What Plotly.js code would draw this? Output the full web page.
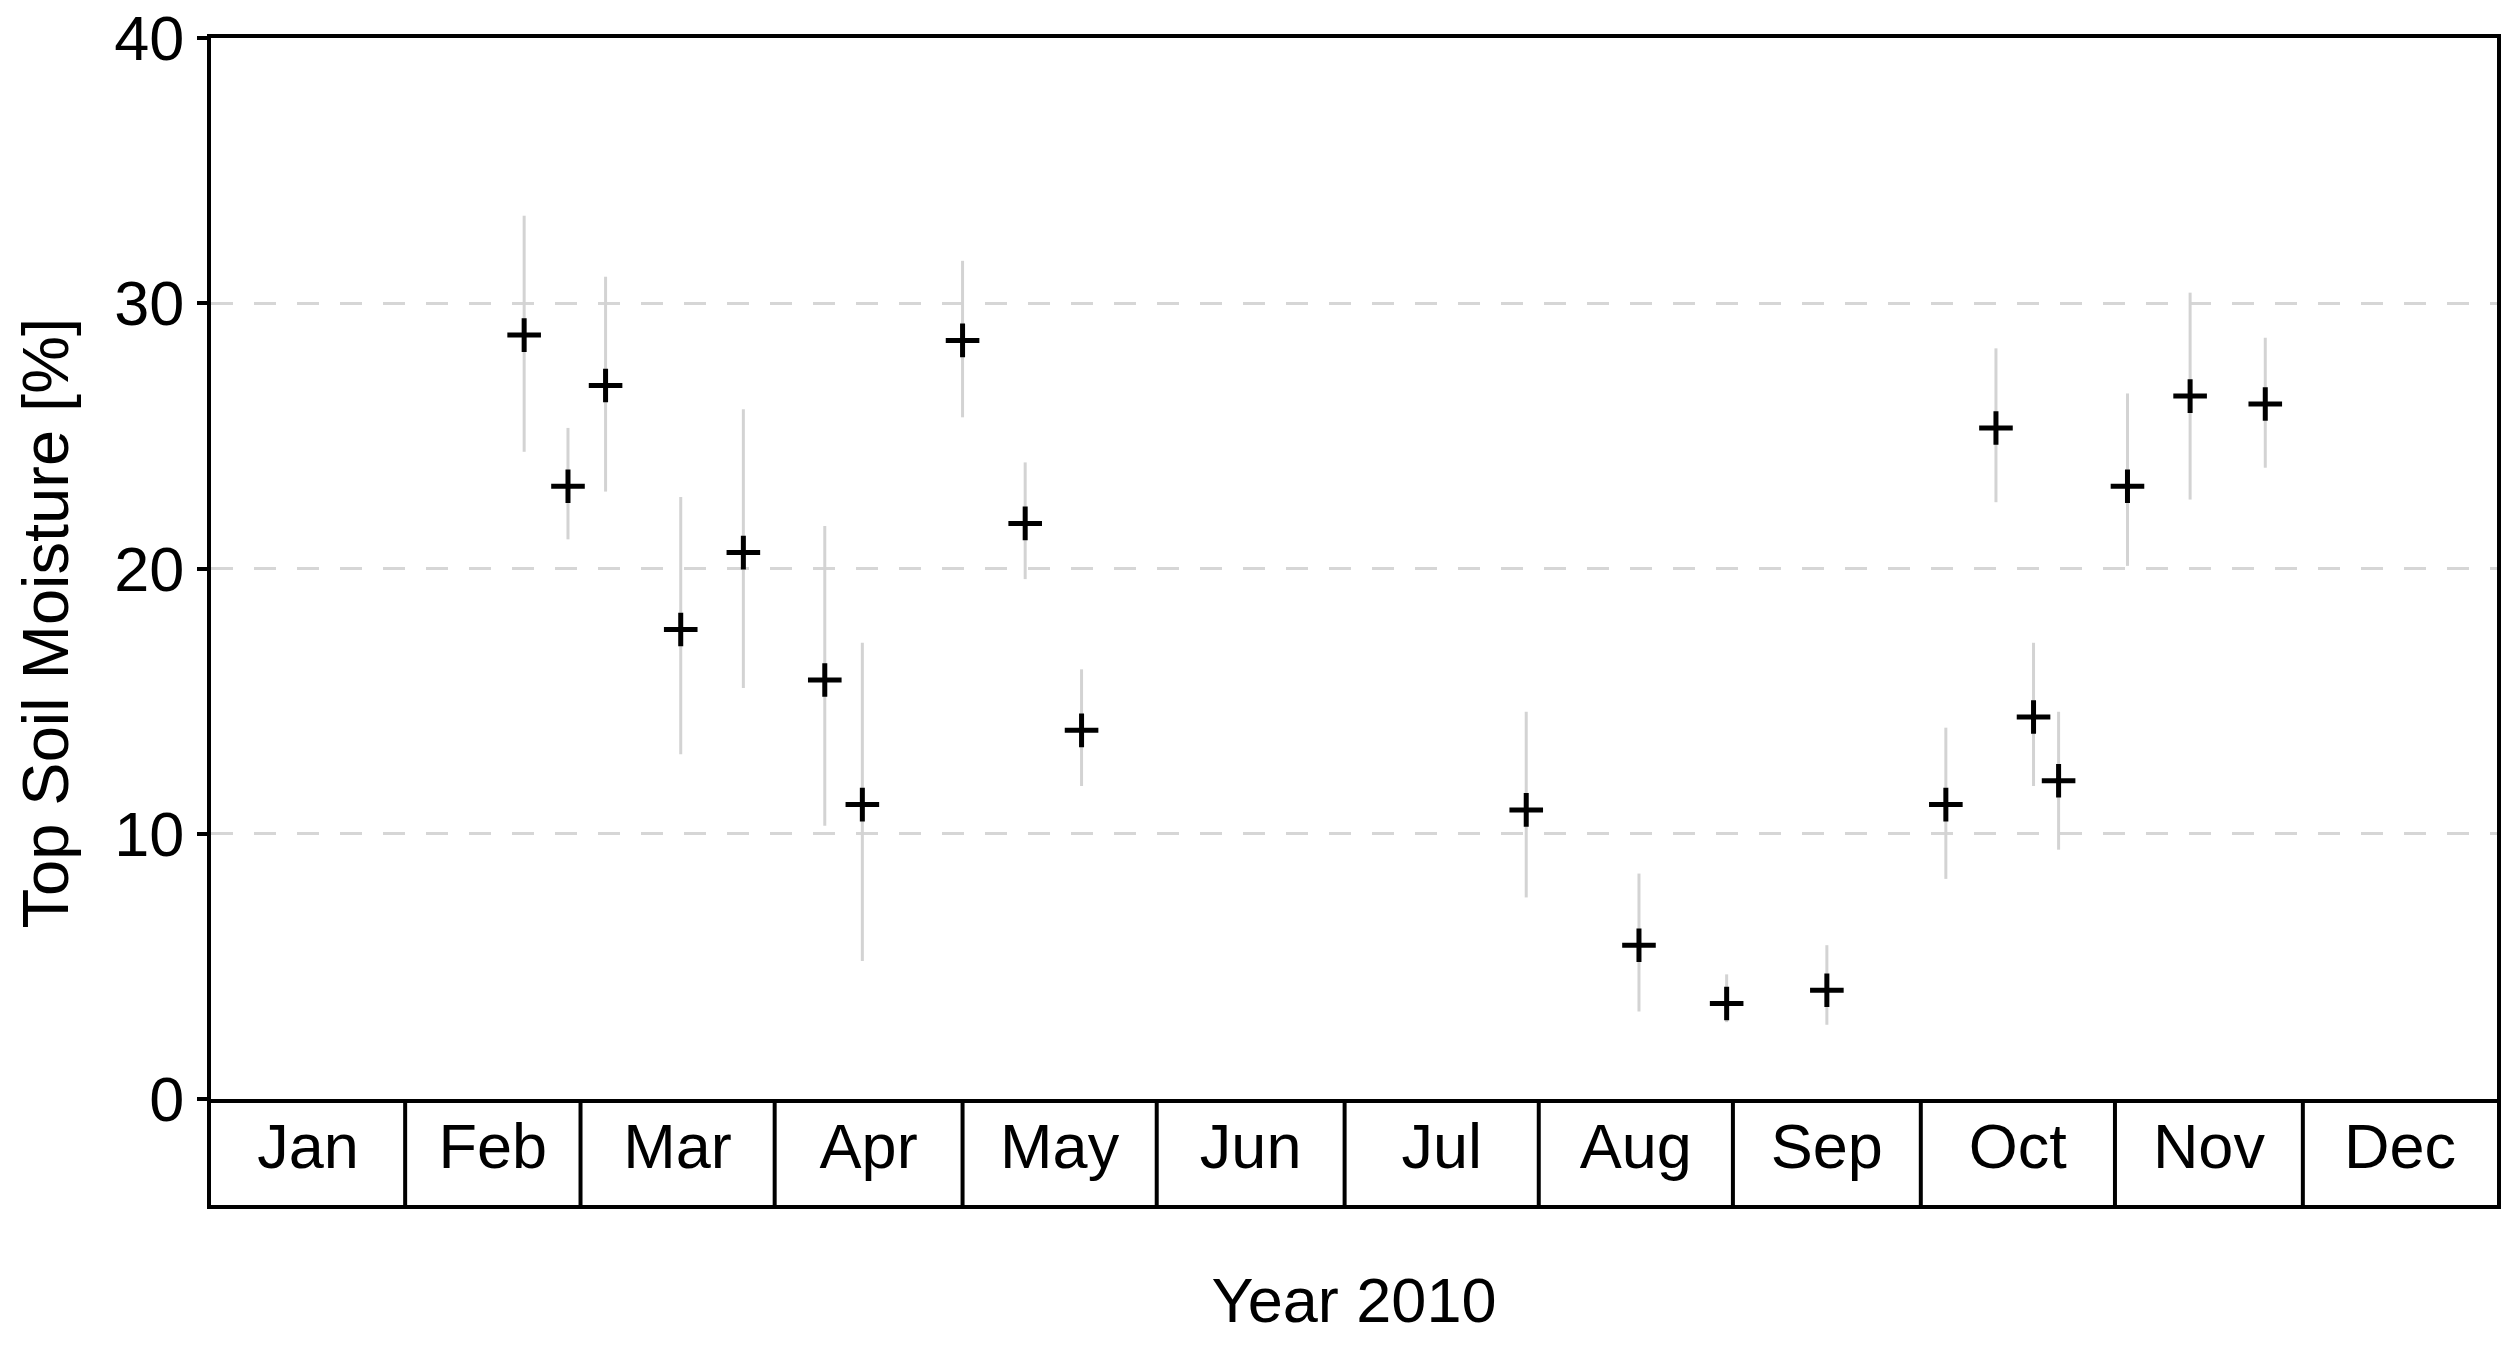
<!DOCTYPE html>
<html><head><meta charset="utf-8">
<script src="https://cdn.plot.ly/plotly-3.0.1.min.js"></script>
<style>html,body{margin:0;padding:0;background:#fff}#chart{width:2513px;height:1346px}</style>
</head><body><div id="chart"></div>
<script>
// ---- data ----
const dates = ['2010-02-20','2010-02-27','2010-03-05','2010-03-17','2010-03-27','2010-04-09','2010-04-15',
  '2010-05-01','2010-05-11','2010-05-20','2010-07-30','2010-08-17','2010-08-31','2010-09-16',
  '2010-10-05','2010-10-13','2010-10-19','2010-10-23','2010-11-03','2010-11-13','2010-11-25'];
const moisture = [28.8, 23.1, 26.9, 17.7, 20.6, 15.8, 11.1, 28.6, 21.7, 13.9, 10.9, 5.8, 3.6, 4.1,
  11.1, 25.3, 14.4, 12.0, 23.1, 26.5, 26.2];
const upper = [33.3, 25.3, 31.0, 22.7, 26.0, 21.6, 17.2, 31.6, 24.0, 16.2, 14.6, 8.5, 4.7, 5.8,
  14.0, 28.3, 17.2, 14.6, 26.6, 30.4, 28.7];
const lower = [24.4, 21.1, 22.9, 13.0, 15.5, 10.3, 5.2, 25.7, 19.6, 11.8, 7.6, 3.3, 2.9, 2.8,
  8.3, 22.5, 11.8, 9.4, 20.1, 22.6, 23.8];
const monthStarts = ['2010-01-01','2010-02-01','2010-03-01','2010-04-01','2010-05-01','2010-06-01',
  '2010-07-01','2010-08-01','2010-09-01','2010-10-01','2010-11-01','2010-12-01','2011-01-01'];
const monthLabels = ['Jan','Feb','Mar','Apr','May','Jun','Jul','Aug','Sep','Oct','Nov','Dec'];
const yTicks = [0, 10, 20, 30, 40];
const xTitle = 'Year 2010';
const yTitle = 'Top Soil Moisture [%]';

// ---- derived ----
const errPlus = moisture.map((v, i) => +(upper[i] - v).toFixed(2));
const errMinus = moisture.map((v, i) => +(v - lower[i]).toFixed(2));
const monthMids = monthLabels.map((m, i) => {
  const a = Date.parse(monthStarts[i] + 'T00:00:00Z'), b = Date.parse(monthStarts[i + 1] + 'T00:00:00Z');
  return new Date((a + b) / 2).toISOString().slice(0, 19).replace('T', ' ');
});

const FONT = 'Liberation Sans, Arial, sans-serif';
const FS = 63;

const traces = [
  {
    type: 'scatter', mode: 'markers', x: dates, y: moisture, xaxis: 'x', yaxis: 'y',
    marker: {symbol: 'cross-thin', size: 24, color: '#000', line: {color: '#000', width: 5}},
    error_y: {type: 'data', symmetric: false, array: errPlus, arrayminus: errMinus,
      color: '#d3d3d3', thickness: 3, width: 0},
    hoverinfo: 'x+y', showlegend: false
  },
  {
    type: 'scatter', mode: 'text', x: monthMids, y: monthMids.map(() => 0.5), text: monthLabels,
    xaxis: 'x2', yaxis: 'y2', textposition: 'middle center',
    textfont: {family: FONT, size: FS, color: '#000'}, hoverinfo: 'skip', showlegend: false
  }
];

const shapes = monthStarts.slice(1, -1).map(d => ({
  type: 'line', xref: 'x2', yref: 'y2 domain', x0: d, x1: d, y0: 0, y1: 1,
  line: {color: '#000', width: 4}
}));

const lineAx = {showline: true, linewidth: 4, linecolor: '#000', zeroline: false};

const layout = {
  width: 2513, height: 1346,
  paper_bgcolor: '#fff', plot_bgcolor: '#fff',
  margin: {l: 211, r: 16, t: 38, b: 141},
  font: {family: FONT, size: FS, color: '#000'},
  showlegend: false,
  xaxis: Object.assign({type: 'date', range: [monthStarts[0], monthStarts[12]], anchor: 'y',
    showgrid: false, ticks: '', showticklabels: false, mirror: true}, lineAx),
  xaxis2: Object.assign({type: 'date', matches: 'x', anchor: 'y2', showgrid: false, ticks: '',
    showticklabels: false, mirror: false,
    title: {text: xTitle, font: {family: FONT, size: FS, color: '#000'}, standoff: 71}}, lineAx),
  yaxis: Object.assign({domain: [0.0908, 1], range: [0, 40], tickvals: yTicks, ticks: 'outside',
    ticklen: 10, tickwidth: 4, tickcolor: '#000', tickfont: {family: FONT, size: FS, color: '#000'},
    ticklabeloverflow: 'allow', mirror: true,
    showgrid: true, gridcolor: '#d6d6d6', gridwidth: 3, griddash: '22px,21px'}, lineAx),
  yaxis2: Object.assign({domain: [0, 0.0908], range: [0, 1], showgrid: false, ticks: '',
    showticklabels: false, fixedrange: true, mirror: true}, lineAx),
  annotations: [{
    text: yTitle, xref: 'paper', yref: 'paper', x: 0, y: 0.5, xshift: -166, yshift: -2,
    xanchor: 'center', yanchor: 'middle', textangle: -90, showarrow: false,
    font: {family: FONT, size: 65, color: '#000'}
  }],
  shapes: shapes
};

Plotly.newPlot('chart', traces, layout, {displayModeBar: false, staticPlot: true});
</script></body></html>
